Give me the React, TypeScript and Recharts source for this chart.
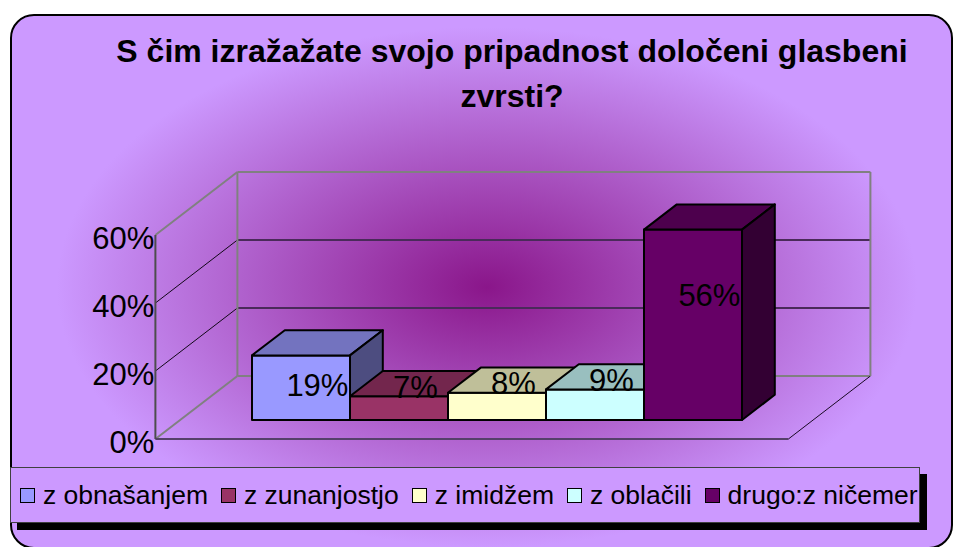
import { BarChart, Bar, XAxis, YAxis, CartesianGrid, LabelList } from 'recharts';

const SERIES = ['z obnašanjem', 'z zunanjostjo', 'z imidžem', 'z oblačili', 'drugo:z ničemer'];
const VALUES = [0.19, 0.07, 0.08, 0.09, 0.56];
const FILLS = ['#9999ff', '#993366', '#ffffcc', '#ccffff', '#660066'];
const Y_TICKS = [0, 0.2, 0.4, 0.6];
const TITLE = ['S čim izražažate svojo pripadnost določeni glasbeni', 'zvrsti?'];

const W = 955;
const H = 547;
const MARGIN = { top: 216, right: 142, bottom: 127, left: 180 };
const PLOT_BOTTOM = H - MARGIN.bottom;

// full depth of the 3d box, and where the bars sit in it
const DEPTH = { x: 82, y: 63 };
const FRONT = { x: -24.6, y: 19 };
const BACK = { x: FRONT.x + DEPTH.x, y: FRONT.y - DEPTH.y };
const BAR_D = { x: 32.8, y: 25.2 };
const FONT = '"Liberation Sans", Arial, sans-serif';

const row: Record<string, number | string> = { cat: '' };
SERIES.forEach((_, i) => {
  row[`s${i}`] = VALUES[i];
});
const data = [row];

const pct = (v: number) => `${Math.round(v * 100)}%`;

function shade(hex: string, k: number) {
  const n = parseInt(hex.slice(1), 16);
  const r = Math.round(((n >> 16) & 255) * k);
  const g = Math.round(((n >> 8) & 255) * k);
  const b = Math.round((n & 255) * k);
  return `rgb(${r},${g},${b})`;
}

const Box = (props: any) => {
  const { x, y, width: w, height: h, fill } = props;
  if (w == null || h == null) return null;
  const dx = BAR_D.x;
  const dy = BAR_D.y;
  const top = `${x},${y} ${x + dx},${y - dy} ${x + w + dx},${y - dy} ${x + w},${y}`;
  const side = `${x + w},${y} ${x + w + dx},${y - dy} ${x + w + dx},${y + h - dy} ${x + w},${y + h}`;
  return (
    <g stroke="#000" strokeWidth={2} strokeLinejoin="round">
      <rect x={x} y={y} width={w} height={h} fill={fill} />
      <polygon points={top} fill={shade(fill, 0.75)} />
      <polygon points={side} fill={shade(fill, 0.5)} />
    </g>
  );
};

const BoxLabel = (props: any) => {
  const { x, y, width: w, height: h, value } = props;
  const cx = x + w / 2 + BAR_D.x / 2;
  const cy = h > 40 ? y + 0.288 * h + 10.6 : y - BAR_D.y / 2 + 3;
  return (
    <text x={cx} y={cy} dy="0.36em" textAnchor="middle" fontFamily={FONT} fontSize={31} fill="#000">
      {pct(value)}
    </text>
  );
};

// walls, floor and the value axis labels, drawn once per horizontal grid line
const WallLine = (props: any) => {
  const { x1, x2, y1, index } = props;
  const fx1 = x1 + FRONT.x;
  const fx2 = x2 + FRONT.x;
  const bx1 = x1 + BACK.x;
  const bx2 = x2 + BACK.x;
  const fy = y1 + FRONT.y;
  const by = y1 + BACK.y;
  const last = index === Y_TICKS.length - 1;
  const label = (
    <text x={fx1 - 1} y={fy + 3} dy="0.36em" textAnchor="end" fontFamily={FONT} fontSize={31} fill="#000" stroke="none">
      {pct(Y_TICKS[index])}
    </text>
  );
  if (index === 0) {
    return (
      <g key={`w${index}`} fill="none">
        <line x1={bx1} y1={by} x2={bx2} y2={by} stroke="#808080" strokeWidth={2} />
        <line x1={fx1} y1={fy} x2={bx1} y2={by} stroke="#808080" strokeWidth={2} />
        <line x1={fx1} y1={fy} x2={fx2} y2={fy} stroke="#55406a" strokeWidth={2} />
        <line x1={fx2} y1={fy} x2={bx2} y2={by} stroke="#1a0a24" strokeWidth={1} />
        {label}
      </g>
    );
  }
  if (last) {
    const zy = PLOT_BOTTOM;
    return (
      <g key={`w${index}`} fill="none">
        <line x1={bx1} y1={by} x2={bx1} y2={zy + BACK.y} stroke="#808080" strokeWidth={2} />
        <line x1={bx2} y1={by} x2={bx2} y2={zy + BACK.y} stroke="#808080" strokeWidth={2} />
        <line x1={bx1} y1={by} x2={bx2} y2={by} stroke="#808080" strokeWidth={2} />
        <line x1={fx1} y1={fy} x2={bx1} y2={by} stroke="#808080" strokeWidth={2} />
        <line x1={fx1} y1={fy} x2={fx1} y2={zy + FRONT.y} stroke="#4d4d4d" strokeWidth={2} />
        {label}
      </g>
    );
  }
  return (
    <g key={`w${index}`} fill="none">
      <line x1={bx1} y1={by} x2={bx2} y2={by} stroke="#4a2a5a" strokeWidth={2} />
      <line x1={fx1} y1={fy} x2={bx1} y2={by} stroke="#120818" strokeWidth={1} />
      {label}
    </g>
  );
};

export default function App() {
  return (
    <div style={{ position: 'absolute', left: 0, top: 0, width: W, height: H, fontFamily: FONT, overflow: 'hidden' }}>
      <div
        style={{
          position: 'absolute',
          left: 10,
          top: 14,
          width: 943,
          height: 535,
          boxSizing: 'border-box',
          border: '2px solid #000',
          borderRadius: 24,
          background: 'radial-gradient(ellipse 430px 260px at 475px 271px, #8a168a 0%, #cc99ff 100%)',
        }}
      />
      <div
        style={{
          position: 'absolute',
          left: 92,
          top: 29,
          width: 840,
          textAlign: 'center',
          fontSize: 32,
          fontWeight: 'bold',
          lineHeight: '45px',
          color: '#000',
        }}
      >
        {TITLE.map((t) => (
          <div key={t}>{t}</div>
        ))}
      </div>
      <div style={{ position: 'absolute', left: 0, top: 0 }}>
        <BarChart width={W} height={H} data={data} margin={MARGIN} barCategoryGap={72} barGap={0}>
          <CartesianGrid vertical={false} horizontal={WallLine} />
          <XAxis dataKey="cat" hide />
          <YAxis domain={[0, 0.6]} ticks={Y_TICKS} width={0} hide />
          {SERIES.map((name, i) => (
            <Bar key={name} dataKey={`s${i}`} name={name} fill={FILLS[i]} shape={Box} isAnimationActive={false}>
              <LabelList dataKey={`s${i}`} content={BoxLabel} />
            </Bar>
          ))}
        </BarChart>
      </div>
      <div
        style={{
          position: 'absolute',
          left: 10,
          top: 467,
          width: 910,
          height: 56,
          boxSizing: 'border-box',
          border: '1px solid #404040',
          background: '#cc99ff',
          boxShadow: '7px 7px 0 #000',
          display: 'flex',
          alignItems: 'center',
          paddingLeft: 9,
          fontSize: 26.5,
          color: '#000',
          whiteSpace: 'nowrap',
        }}
      >
        {SERIES.map((name, i) => (
          <div key={name} style={{ display: 'flex', alignItems: 'center', marginRight: 13 }}>
            <span
              style={{
                display: 'inline-block',
                width: 15,
                height: 15,
                boxSizing: 'border-box',
                border: '1.5px solid #000',
                background: FILLS[i],
                marginRight: 8,
              }}
            />
            <span>{name}</span>
          </div>
        ))}
      </div>
    </div>
  );
}
